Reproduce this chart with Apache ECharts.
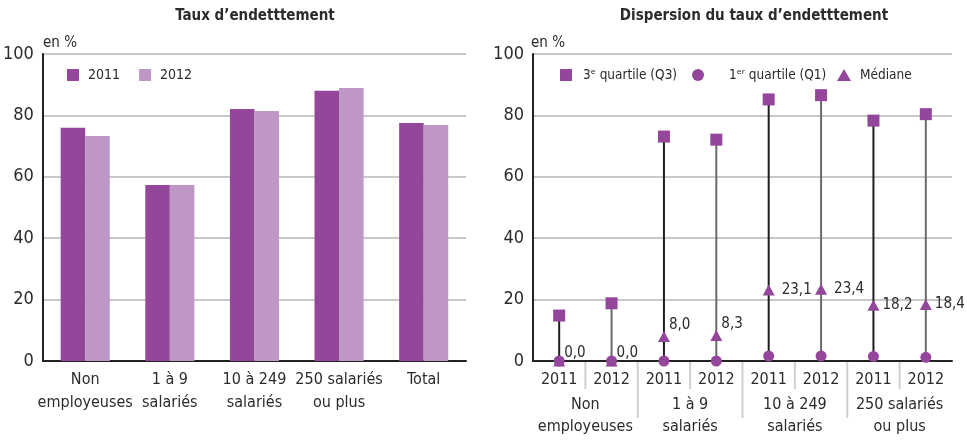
<!DOCTYPE html>
<html><head><meta charset="utf-8">
<script src="https://cdn.jsdelivr.net/npm/echarts@6/dist/echarts.min.js"></script>
<style>html,body{margin:0;padding:0;background:#fff}#c{width:967px;height:440px}</style>
</head><body><div id="c"></div>
<script>
const barCats = ['Non\nemployeuses', '1 à 9\nsalariés', '10 à 249\nsalariés', '250 salariés\nou plus', 'Total'];
const bar2011 = [76.0, 57.3, 82.1, 88.0, 77.5];
const bar2012 = [73.3, 57.3, 81.4, 88.9, 76.9];
const years = ['2011', '2012', '2011', '2012', '2011', '2012', '2011', '2012'];
const groups = ['Non\nemployeuses', '1 à 9\nsalariés', '10 à 249\nsalariés', '250 salariés\nou plus'];
const q3 = [14.8, 18.8, 73.1, 72.1, 85.2, 86.6, 78.3, 80.4];
const q1 = [0.0, 0.0, 0.0, 0.0, 1.6, 1.6, 1.5, 1.2];
const median = [0.0, 0.0, 8.0, 8.3, 23.1, 23.4, 18.2, 18.4];
const yTicks = [0, 20, 40, 60, 80, 100];

const FONT = '"Liberation Sans Narrow", "DejaVu Sans Condensed", "Roboto Condensed", Roboto, sans-serif';
const DARK = '#93469a', LIGHT = '#bf97c6', TXT = '#2b2b2b', GRID = '#c8c8c8', SEP = '#cfcfcf';

const chart = echarts.init(document.getElementById('c'), null, {renderer: 'canvas'});

function yAxis(gi) {
  return {
    type: 'value', gridIndex: gi, min: yTicks[0], max: yTicks[yTicks.length - 1], interval: yTicks[1] - yTicks[0],
    axisLine: {show: true, lineStyle: {color: '#222', width: 2}},
    axisTick: {show: false},
    splitLine: {lineStyle: {color: GRID, width: 2}},
    axisLabel: {color: TXT, fontSize: 18, fontFamily: FONT, margin: 9}
  };
}

const medLabelOffsets = [[-6, -8], [-6, -8], [-6, -11], [-6, -11], [2, 0], [2, 0], [-2, 0], [-2, 0]];
const legendText = {fontSize: 13.5, color: TXT, fontFamily: FONT};

const option = {
  animation: false,
  textStyle: {fontFamily: FONT},
  title: [
    {text: 'Taux d\u2019endetttement', left: 250, top: 4, textAlign: 'center',
     textStyle: {fontSize: 15, fontWeight: 'bold', color: TXT, fontFamily: FONT}},
    {text: 'Dispersion du taux d\u2019endetttement', left: 749, top: 4, textAlign: 'center',
     textStyle: {fontSize: 15, fontWeight: 'bold', color: TXT, fontFamily: FONT}},
    {text: 'en %', left: 38, top: 31, textStyle: {fontSize: 15, fontWeight: 'normal', color: TXT, fontFamily: FONT}},
    {text: 'en %', left: 526, top: 31, textStyle: {fontSize: 15, fontWeight: 'normal', color: TXT, fontFamily: FONT}}
  ],
  legend: [
    {data: ['2011', '2012'], left: 62, top: 63, itemWidth: 12, itemHeight: 12, itemGap: 19, icon: 'rect',
     textStyle: Object.assign({padding: [0, 0, 0, 4]}, legendText, {fontSize: 14})},
    {data: [{name: 'Q3', icon: 'rect'}], left: 555, top: 63, itemWidth: 12, itemHeight: 12,
     formatter: () => '3\u1d49 quartile (Q3)',
     textStyle: Object.assign({padding: [0, 0, 0, 6]}, legendText)},
    {data: [{name: 'Q1', icon: 'circle'}], left: 687, top: 63, itemWidth: 12, itemHeight: 12,
     formatter: () => '1\u1d49\u02b3 quartile (Q1)',
     textStyle: Object.assign({padding: [0, 0, 0, 20]}, legendText)},
    {data: [{name: 'Médiane', icon: 'triangle'}], left: 832, top: 63, itemWidth: 14, itemHeight: 12,
     textStyle: Object.assign({padding: [0, 0, 0, 4]}, legendText)}
  ],
  grid: [
    {left: 42, right: 501, top: 54, bottom: 79},
    {left: 533, right: 15, top: 54, bottom: 79}
  ],
  xAxis: [
    {type: 'category', gridIndex: 0, data: barCats,
     axisLine: {lineStyle: {color: '#222', width: 2}}, axisTick: {show: false},
     axisLabel: {color: TXT, fontSize: 16, fontFamily: FONT, lineHeight: 23, margin: 7, interval: 0}},
    {type: 'category', gridIndex: 1, data: years,
     axisLine: {lineStyle: {color: '#222', width: 2}},
     axisTick: {show: false},
     axisLabel: {color: TXT, fontSize: 16, fontFamily: FONT, lineHeight: 22, margin: 8, interval: 0}},
    {type: 'category', gridIndex: 1, data: groups, position: 'bottom',
     axisLine: {show: false}, axisTick: {show: false},
     axisLabel: {color: TXT, fontSize: 16, fontFamily: FONT, lineHeight: 22, margin: 33, interval: 0}}
  ],
  yAxis: [yAxis(0), yAxis(1)],
  series: [
    {name: '2011', type: 'bar', xAxisIndex: 0, yAxisIndex: 0, data: bar2011, barGap: '0%', barCategoryGap: '42%',
     itemStyle: {color: DARK}},
    {name: '2012', type: 'bar', xAxisIndex: 0, yAxisIndex: 0, data: bar2012,
     itemStyle: {color: LIGHT}},
    // separators between year / group labels below the axis
    {type: 'custom', xAxisIndex: 1, yAxisIndex: 1, z: 0, silent: true, clip: false,
     data: years.slice(1).map((y, k) => [k + 1, 0]),
     encode: {x: 0, y: 1},
     renderItem: function (params, api) {
       const k = api.value(0);
       const a = api.coord([k - 1, 0]);
       const b = api.coord([k, 0]);
       const x = (a[0] + b[0]) / 2;
       const len = k % 2 === 0 ? 57 : 28;
       return {type: 'line', shape: {x1: x, y1: b[1] + 1, x2: x, y2: b[1] + len},
               style: {stroke: SEP, lineWidth: 2}};
     }},
    // Q1 -> Q3 stems
    {type: 'custom', xAxisIndex: 1, yAxisIndex: 1, z: 1, silent: true,
     data: years.map((y, i) => [i, q1[i], q3[i]]),
     encode: {x: 0, y: [1, 2]},
     renderItem: function (params, api) {
       const i = api.value(0);
       const a = api.coord([i, api.value(1)]);
       const b = api.coord([i, api.value(2)]);
       return {type: 'line', shape: {x1: a[0], y1: a[1], x2: b[0], y2: b[1]},
               style: {stroke: i % 2 === 0 ? '#1e1e1e' : '#6a6a6a', lineWidth: 2}};
     }},
    {name: 'Médiane', type: 'scatter', xAxisIndex: 1, yAxisIndex: 1, z: 2,
     symbol: 'triangle', symbolSize: [12, 11], itemStyle: {color: DARK, opacity: 1},
     data: median.map((v, i) => ({value: v, label: {offset: medLabelOffsets[i]}})),
     label: {show: true, position: 'right', distance: 5, color: TXT, fontSize: 15, fontFamily: FONT,
             formatter: (p) => p.value.toFixed(1).replace('.', ',')}},
    {name: 'Q1', type: 'scatter', xAxisIndex: 1, yAxisIndex: 1, z: 3,
     symbol: 'circle', symbolSize: 11, itemStyle: {color: DARK, opacity: 1}, data: q1},
    {name: 'Q3', type: 'scatter', xAxisIndex: 1, yAxisIndex: 1, z: 3,
     symbol: 'rect', symbolSize: 12, itemStyle: {color: DARK, opacity: 1}, data: q3}
  ]
};
chart.setOption(option);
</script></body></html>
